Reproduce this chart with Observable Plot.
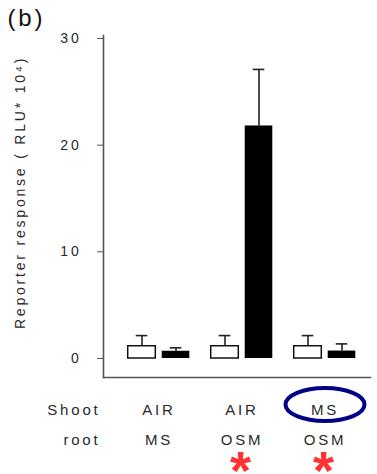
<!DOCTYPE html>
<html>
<head>
<meta charset="utf-8">
<script src="https://cdn.jsdelivr.net/npm/d3@7"></script>
<script src="https://cdn.jsdelivr.net/npm/@observablehq/plot@0.6"></script>
<style>
  html, body { margin: 0; padding: 0; background: #fff; }
</style>
</head>
<body>
<div id="chart"></div>
<script>
// ---- data ----
const groups = ["G1", "G2", "G3"];
const shootLabels = ["AIR", "AIR", "MS"];
const rootLabels = ["MS", "OSM", "OSM"];
const whiteValues = [1.15, 1.15, 1.15];
const whiteErrTop = [2.15, 2.15, 2.15];
const blackValues = [0.68, 21.8, 0.7];
const blackErrTop = [1.0, 27.1, 1.37];
const significant = [false, true, true];
const highlighted = [false, false, true];
const yTicks = [0, 10, 20, 30];
const rowTitles = ["Shoot", "root"];
const panelLabel = "(b)";
const yLabel = "Reporter response ( RLU* 10\u2074)";

const white = groups.map((g, i) => ({g, v: whiteValues[i], e: whiteErrTop[i]}));
const black = groups.map((g, i) => ({g, v: blackValues[i], e: blackErrTop[i]}));
const rows = groups.map((g, i) => ({g, shoot: shootLabels[i], root: rootLabels[i], sig: significant[i], hi: highlighted[i]}));

const ellipseSymbol = {
  draw(ctx) {
    const rx = 39.5, ry = 16.5, k = 0.5523;
    ctx.moveTo(rx, 0);
    ctx.bezierCurveTo(rx, ry * k, rx * k, ry, 0, ry);
    ctx.bezierCurveTo(-rx * k, ry, -rx, ry * k, -rx, 0);
    ctx.bezierCurveTo(-rx, -ry * k, -rx * k, -ry, 0, -ry);
    ctx.bezierCurveTo(rx * k, -ry, rx, -ry * k, rx, 0);
    ctx.closePath();
  }
};

const font = "'Liberation Sans', Arial, sans-serif";
const textColor = "#2a2a2a";

const plot = Plot.plot({
  width: 377,
  height: 474,
  marginLeft: 103,
  marginRight: 7,
  marginTop: 35,
  marginBottom: 97,
  style: {fontFamily: font, background: "#fff"},
  x: {domain: groups, range: [116, 366], padding: 0, axis: null},
  y: {domain: [-1.78, 30.28], axis: null},
  marks: [
    Plot.axisY({ticks: yTicks, tickSize: 6, tickPadding: 16, fontSize: 14, stroke: "#555", fill: textColor, label: null}),
    Plot.frame({anchor: "left", stroke: "#555", strokeWidth: 1.6}),
    Plot.frame({anchor: "bottom", stroke: "#555", strokeWidth: 1.6}),
    // error bars
    Plot.ruleX(white, {x: "g", y1: "v", y2: "e", dx: -17, stroke: "#222", strokeWidth: 1.6}),
    Plot.tickY(white, {x: "g", y: "e", dx: -17, insetLeft: 35.7, insetRight: 35.7, stroke: "#222", strokeWidth: 1.6}),
    Plot.ruleX(black, {x: "g", y1: "v", y2: "e", dx: 17, stroke: "#222", strokeWidth: 1.6}),
    Plot.tickY(black, {x: "g", y: "e", dx: 17, insetLeft: 35.7, insetRight: 35.7, stroke: "#222", strokeWidth: 1.6}),
    // bars
    Plot.barY(white, {x: "g", y: "v", insetLeft: 10.7, insetRight: 44.7, fill: "#fff", stroke: "#111", strokeWidth: 1.5}),
    Plot.barY(black, {x: "g", y: "v", insetLeft: 44.7, insetRight: 10.7, fill: "#000"}),
    // category rows
    Plot.text(rows, {x: "g", text: "shoot", frameAnchor: "bottom", lineAnchor: "middle", dy: 33, fontSize: 15, fill: textColor}),
    Plot.text(rows, {x: "g", text: "root", frameAnchor: "bottom", lineAnchor: "middle", dy: 63, fontSize: 15, fill: textColor}),
    Plot.text([rowTitles[0]], {text: d => d, frameAnchor: "bottom-left", lineAnchor: "middle", dx: -3, dy: 33, textAnchor: "end", fontSize: 15, fill: textColor}),
    Plot.text([rowTitles[1]], {text: d => d, frameAnchor: "bottom-left", lineAnchor: "middle", dx: -3, dy: 63, textAnchor: "end", fontSize: 15, fill: textColor}),
    Plot.text(rows.filter(d => d.sig), {x: "g", text: () => "*", frameAnchor: "bottom", lineAnchor: "middle", dy: 94, fontSize: 54, fontWeight: "bold", fill: "#ff3333"}),
    Plot.dot(rows.filter(d => d.hi), {x: "g", frameAnchor: "bottom", dy: 27, symbol: ellipseSymbol, r: 10, fill: "none", stroke: "#000088", strokeWidth: 4}),
    // labels
    Plot.text([panelLabel], {text: d => d, frameAnchor: "top-left", lineAnchor: "middle", dx: -96, dy: -17, textAnchor: "start", fontSize: 24, fill: "#111"}),
    Plot.text([yLabel], {text: d => d, frameAnchor: "left", lineAnchor: "middle", textAnchor: "middle", dx: -83, dy: -14, rotate: -90, fontSize: 14, fill: textColor})
  ]
});

d3.select(plot).selectAll("text").style("letter-spacing", "2.8px");
document.getElementById("chart").appendChild(plot);
</script>
</body>
</html>
